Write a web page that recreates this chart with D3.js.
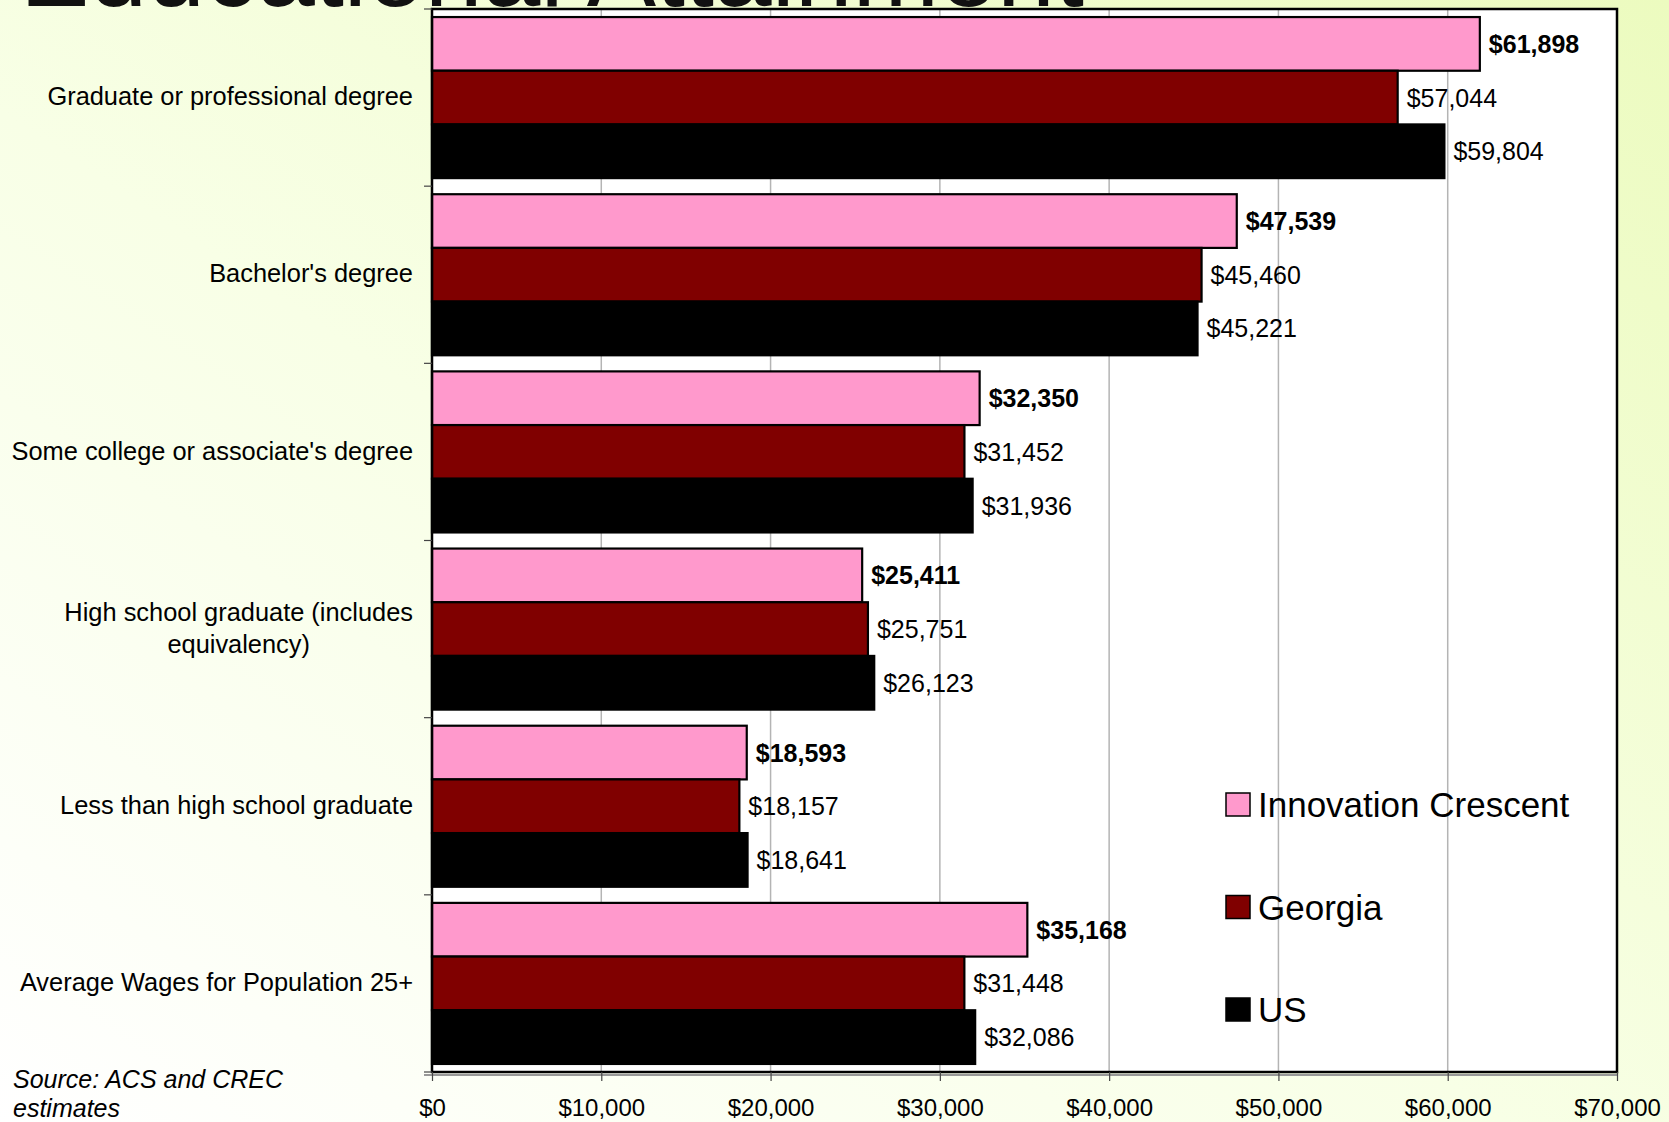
<!DOCTYPE html>
<html>
<head>
<meta charset="utf-8">
<script src="https://cdn.jsdelivr.net/npm/d3@7"></script>
<style>
  html, body { margin: 0; padding: 0; }
  body { width: 1669px; height: 1122px; overflow: hidden; font-family: Arial, "Liberation Sans", sans-serif; }
</style>
</head>
<body>
<svg id="chart" width="1669" height="1122"></svg>
<script>
const categories = [
  "Graduate or professional degree",
  "Bachelor's degree",
  "Some college or associate's degree",
  "High school graduate (includes equivalency)",
  "Less than high school graduate",
  "Average Wages for Population 25+"
];
const seriesNames = ["Innovation Crescent", "Georgia", "US"];
const innovationCrescent = [61898, 47539, 32350, 25411, 18593, 35168];
const georgia = [57044, 45460, 31452, 25751, 18157, 31448];
const us = [59804, 45221, 31936, 26123, 18641, 32086];
const xTicks = [0, 10000, 20000, 30000, 40000, 50000, 60000, 70000];
const categoryLines = {
  "High school graduate (includes equivalency)": ["High school graduate (includes", "equivalency)"]
};

const seriesValues = [innovationCrescent, georgia, us];
const colors = ["#ff99cc", "#800000", "#000000"];

const svg = d3.select("#chart");
const W = 1669, H = 1122;
const m = { left: 432, right: 1617, top: 9, bottom: 1072 };

// background gradient
const defs = svg.append("defs");
const grad = defs.append("linearGradient").attr("id", "bg")
  .attr("x1", "100%").attr("y1", "0%").attr("x2", "0%").attr("y2", "100%");
grad.append("stop").attr("offset", "0%").attr("stop-color", "#ecfbbf");
grad.append("stop").attr("offset", "55%").attr("stop-color", "#f8ffe6");
grad.append("stop").attr("offset", "100%").attr("stop-color", "#ffffff");
svg.append("rect").attr("width", W).attr("height", H).attr("fill", "url(#bg)");

// title (cropped at top, as in the slide)
svg.append("text")
  .attr("x", 20).attr("y", 6)
  .attr("font-size", 104)
  .attr("fill", "#111")
  .text("Educational Attainment");

const x = d3.scaleLinear().domain([0, 70000]).range([m.left, m.right]);
const y = d3.scaleBand().domain(categories).range([m.top, m.bottom]).padding(0);
const ySub = d3.scaleBand().domain(seriesNames).range([0, y.bandwidth()]).paddingInner(0).paddingOuter(0.15);

// plot area
svg.append("rect")
  .attr("x", m.left).attr("y", m.top)
  .attr("width", m.right - m.left).attr("height", m.bottom - m.top)
  .attr("fill", "#ffffff");

// gridlines
svg.append("g").selectAll("line")
  .data(xTicks.slice(1, -1))
  .join("line")
  .attr("x1", d => x(d)).attr("x2", d => x(d))
  .attr("y1", m.top).attr("y2", m.bottom)
  .attr("stroke", "#b4b4b4").attr("stroke-width", 1.5);

// bars
const groups = svg.append("g").selectAll("g")
  .data(categories)
  .join("g")
  .attr("transform", d => `translate(0,${y(d)})`);

groups.each(function(cat, ci) {
  const g = d3.select(this);
  seriesNames.forEach((s, si) => {
    const v = seriesValues[si][ci];
    g.append("rect")
      .attr("x", x(0))
      .attr("y", ySub(s))
      .attr("width", x(v) - x(0))
      .attr("height", ySub.bandwidth())
      .attr("fill", colors[si])
      .attr("stroke", "#000")
      .attr("stroke-width", 2.2);
    g.append("text")
      .attr("x", x(v) + 9)
      .attr("y", ySub(s) + ySub.bandwidth() / 2)
      .attr("dy", "0.36em")
      .attr("font-size", 25)
      .attr("font-weight", si === 0 ? "bold" : "normal")
      .attr("fill", "#000")
      .text(d3.format("$,")(v));
  });
});

// plot border
svg.append("rect")
  .attr("x", m.left).attr("y", m.top)
  .attr("width", m.right - m.left).attr("height", m.bottom - m.top)
  .attr("fill", "none").attr("stroke", "#000").attr("stroke-width", 2.5);
svg.append("line")
  .attr("x1", m.left - 8).attr("x2", m.right)
  .attr("y1", m.bottom + 3).attr("y2", m.bottom + 3)
  .attr("stroke", "#999").attr("stroke-width", 2);

// x axis
const xAxis = d3.axisBottom(x).tickValues(xTicks).tickSize(9).tickPadding(18)
  .tickFormat(d3.format("$,"));
const gx = svg.append("g").attr("transform", `translate(0,${m.bottom})`).call(xAxis);
gx.select(".domain").remove();
gx.selectAll(".tick line").attr("stroke", "#444").attr("stroke-width", 1.2);
gx.selectAll(".tick text").attr("font-size", 24).attr("font-family", "Arial, 'Liberation Sans', sans-serif").attr("fill", "#000");

// y axis ticks at band boundaries
const boundaries = categories.map(c => y(c)).concat([m.bottom]);
svg.append("g").selectAll("line")
  .data(boundaries)
  .join("line")
  .attr("x1", m.left - 8).attr("x2", m.left)
  .attr("y1", d => d).attr("y2", d => d)
  .attr("stroke", "#444").attr("stroke-width", 1.2);

// y category labels
const labelRight = 413;
categories.forEach(cat => {
  const lines = categoryLines[cat] || [cat];
  const cy = y(cat) + y.bandwidth() / 2;
  const t = svg.append("text")
    .attr("font-size", 25.4)
    .attr("fill", "#000");
  const lh = 32;
  lines.forEach((ln, i) => {
    t.append("tspan")
      .attr("x", 0)
      .attr("y", cy + (i - (lines.length - 1) / 2) * lh)
      .attr("dy", "0.3em")
      .text(ln);
  });
  if (lines.length === 1) {
    t.attr("text-anchor", "end").selectAll("tspan").attr("x", labelRight);
  } else {
    let maxW = 0;
    t.selectAll("tspan").each(function() { maxW = Math.max(maxW, this.getComputedTextLength()); });
    t.attr("text-anchor", "middle").selectAll("tspan").attr("x", labelRight - maxW / 2);
  }
});

// legend
const legend = svg.append("g").attr("transform", "translate(1226,793)");
seriesNames.forEach((s, i) => {
  const gy = i * 102.5;
  legend.append("rect")
    .attr("x", 0).attr("y", gy)
    .attr("width", 24).attr("height", 23)
    .attr("fill", colors[i])
    .attr("stroke", "#000").attr("stroke-width", 1.5);
  legend.append("text")
    .attr("x", 32).attr("y", gy + 11.5)
    .attr("dy", "0.36em")
    .attr("font-size", 35)
    .attr("fill", "#000")
    .text(s);
});

// source note
const src = svg.append("text")
  .attr("font-size", 25).attr("font-style", "italic").attr("fill", "#000");
src.append("tspan").attr("x", 13).attr("y", 1088).text("Source: ACS and CREC");
src.append("tspan").attr("x", 13).attr("y", 1117).text("estimates");
</script>
</body>
</html>
